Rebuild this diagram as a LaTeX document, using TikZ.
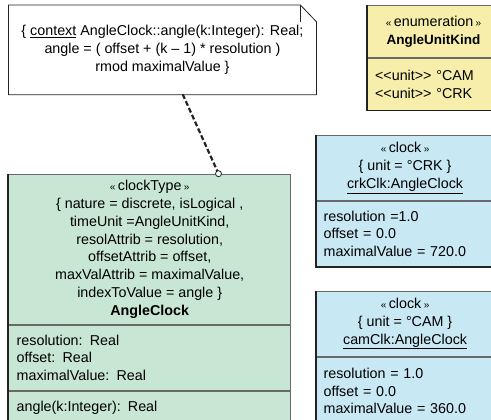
\documentclass[tikz,border=0pt]{standalone}
\usepackage{fontspec}
\setmainfont{Liberation Sans}
\definecolor{typegreen}{RGB}{200,230,212}
\definecolor{enumyellow}{RGB}{246,238,170}
\definecolor{instblue}{RGB}{200,232,244}
\definecolor{edgegray}{RGB}{105,105,105}
\definecolor{edgedark}{RGB}{35,35,35}
\newcommand{\stereo}[1]{{\fontsize{10}{10}\selectfont«}\,#1\,{\fontsize{10}{10}\selectfont»}}

\begin{document}
\begin{tikzpicture}[x=1pt,y=-1pt,
    every node/.style={font=\fontsize{14.3}{17.8}\selectfont, inner sep=0pt},
    part/.style={draw=edgegray, line width=0.8pt, anchor=north west, align=center},
    shadow/.style={draw=edgedark, line width=1.8pt}]
  \useasboundingbox (0,0) rectangle (491,420);
  \clip (0,0) rectangle (491,420);

  % constraint note
  \node (note) [minimum width=307.5, minimum height=89.3, anchor=north west, align=center] at (8.5,5)
    {\{ \underline{context} AngleClock::angle(k:Integer): Real;\\
     angle = ( offset + (k -- 1) * resolution )\\
     rmod maximalValue \}};
  \draw [edgedark, line width=0.8pt] (note.north west) -- ([xshift=-16pt]note.north east)
    -- ([yshift=-16.7pt]note.north east) -- (note.south east) -- (note.south west) -- cycle;
  \draw [edgedark, line width=0.6pt] ([xshift=-16pt]note.north east) -- ++(0,16.7);

  % clock type
  \node (typeHead) [part, fill=typegreen, minimum width=282, minimum height=150.3] at (8.3,173.7)
    {\stereo{clockType}\\
     \{ nature = discrete, isLogical ,\\
     timeUnit =AngleUnitKind,\\
     resolAttrib = resolution,\\
     offsetAttrib = offset,\\
     maxValAttrib = maximalValue,\\
     indexToValue = angle \}\\
     \textbf{AngleClock}};
  \node (typeAttrs) [part, fill=typegreen, minimum width=282, minimum height=65, text width=266pt, align=left, inner xsep=8pt] at (typeHead.south west)
    {resolution: Real\\ offset: Real\\ maximalValue: Real};
  \node (typeOps) [part, fill=typegreen, minimum width=282, minimum height=34, text width=266pt, align=left, inner xsep=8pt] at (typeAttrs.south west)
    {angle(k:Integer): Real};
  \draw [shadow] (typeHead.north west) -- (typeOps.south west);

  % enumeration
  \node (enumHead) [part, fill=enumyellow, minimum width=133, minimum height=52] at (366.7,5)
    {\stereo{enumeration}\\ {\fontsize{13.5}{17.8}\selectfont\bfseries AngleUnitKind}};
  \node (enumItems) [part, fill=enumyellow, minimum width=133, minimum height=52, text width=117pt, align=left, inner xsep=8pt] at (enumHead.south west)
    {<{}<unit>{}> °CAM\\ <{}<unit>{}> °CRK};
  \draw [shadow] (enumHead.north west) -- (enumItems.south west) -- (enumItems.south east);

  % crank clock
  \node (crkHead) [part, fill=instblue, minimum width=178, minimum height=65] at (315.7,135)
    {\stereo{clock}\\ \{ unit = °CRK \}\\ \underline{crkClk:AngleClock}};
  \node (crkAttrs) [part, fill=instblue, minimum width=178, minimum height=65, text width=163pt, align=left, inner xsep=7.5pt] at (crkHead.south west)
    {resolution =1.0\\ offset = 0.0\\ maximalValue = 720.0};
  \draw [shadow] (crkHead.north west) -- (crkAttrs.south west) -- (crkAttrs.south east);

  % cam clock
  \node (camHead) [part, fill=instblue, minimum width=178, minimum height=65] at (315.7,290.7)
    {\stereo{clock}\\ \{ unit = °CAM \}\\ \underline{camClk:AngleClock}};
  \node (camAttrs) [part, fill=instblue, minimum width=178, minimum height=68, text width=163pt, align=left, inner xsep=7.5pt] at (camHead.south west)
    {resolution = 1.0\\ offset = 0.0\\ maximalValue = 360.0};
  \draw [shadow] (camHead.north west) -- (camAttrs.south west);

  % note anchor
  \coordinate (noteFoot) at (182.7,94.3);
  \coordinate (typeTop) at (218.5,173.7);
  \draw [edgedark, line width=2.2pt, dash pattern=on 5pt off 2.5pt] (noteFoot) -- (typeTop);
  \draw [edgedark, line width=0.8pt, fill=white] (typeTop) circle [radius=3pt];
\end{tikzpicture}
\end{document}
